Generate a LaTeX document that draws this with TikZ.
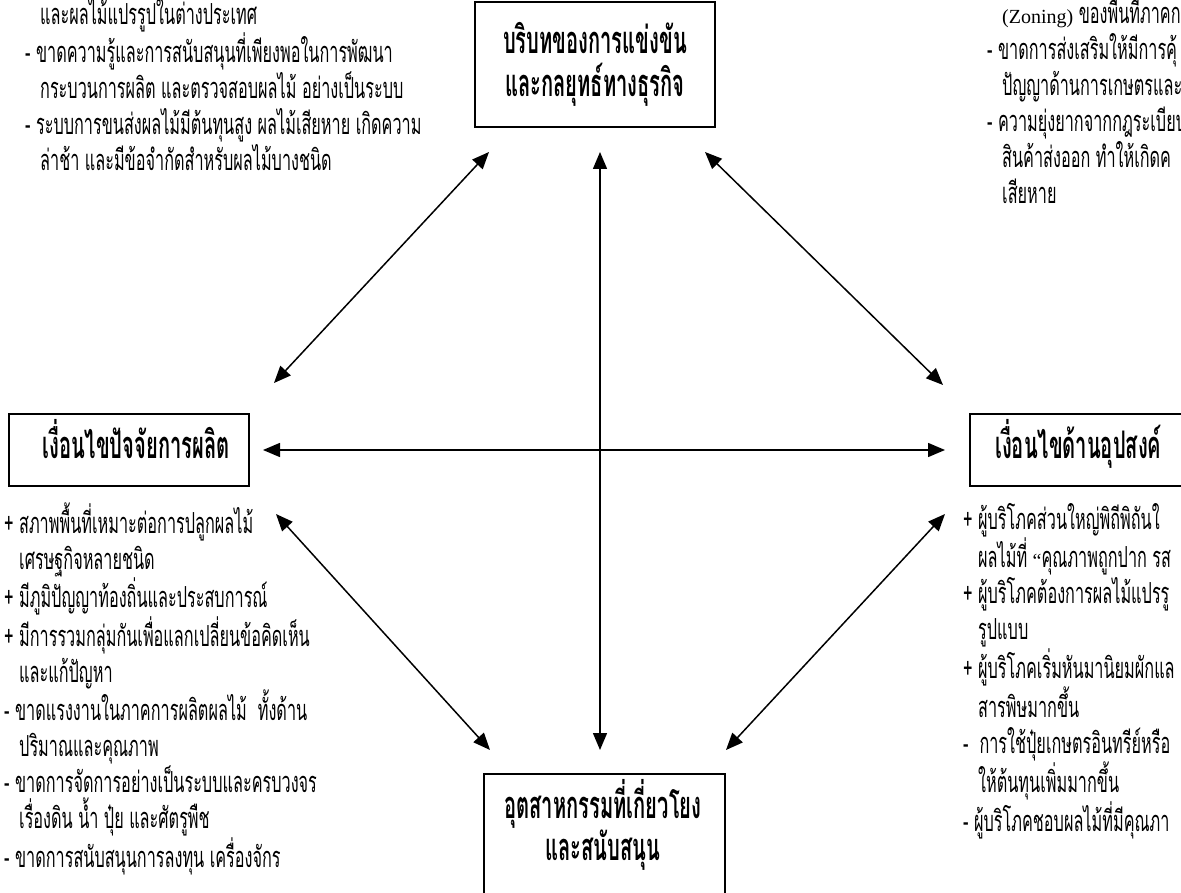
\documentclass[tikz,border=0pt]{standalone}
\usepackage{fontspec}
\usetikzlibrary{arrows.meta}
\newfontfamily\thaifont[Script=Thai,FakeStretch=0.56]{Loma}
\newfontfamily\thaihead[Script=Thai,FakeStretch=0.53]{Loma}
\newfontfamily\latinfont{Liberation Serif}
\tikzset{
  box/.style={draw, line width=1.3pt, inner sep=0pt},
  head/.style={font=\thaihead\bfseries\fontsize{38}{43}\selectfont, align=center, inner sep=0pt},
  block/.style={anchor=base west, inner sep=0pt, align=left,
    font=\thaifont\fontsize{29}{36}\selectfont},
  link/.style={line width=1.5pt,
    {Triangle[length=17pt,width=14pt]}-{Triangle[length=17pt,width=14pt]}}
}
\newcommand{\ind}{\hspace*{15pt}}
\newcommand{\openq}{{\latinfont\fontsize{20}{36}\selectfont“}}
\begin{document}
\begin{tikzpicture}[x=1pt,y=-1pt]
\useasboundingbox (0,0) rectangle (1181,893);
\clip (0,0) rectangle (1181,893);
\fill[white] (0,0) rectangle (1181,893);

% boxes (base anchor sits on the last line)
\node[box, minimum width=240pt, minimum height=125pt] (cx) at (595,64.5) {};
\node[head, anchor=base] (cxt) at (595,97) {บริบทของการแข่งขัน\\และกลยุทธ์ทางธุรกิจ};

\node[box, minimum width=240pt, minimum height=72pt] (fc) at (129,450) {};
\node[head, anchor=base] (fct) at (136,458) {เงื่อนไขปัจจัยการผลิต};

\node[box, minimum width=240pt, minimum height=72pt] (dc) at (1090,450) {};
\node[head, anchor=base west] (dct) at (995,458) {เงื่อนไขด้านอุปสงค์};

\node[box, minimum width=241pt, minimum height=150pt] (ri) at (604.5,849) {};
\node[head, anchor=base, font=\thaihead\bfseries\fontsize{38}{40}\selectfont] (rit) at (603,860)
{อุตสาหกรรมที่เกี่ยวโยง\\และสนับสนุน};

% text blocks
\node[block] (ttl) at (25,171)
{\ind และผลไม้แปรรูปในต่างประเทศ\\
- ขาดความรู้และการสนับสนุนที่เพียงพอในการพัฒนา\\
\ind กระบวนการผลิต และตรวจสอบผลไม้ อย่างเป็นระบบ\\
- ระบบการขนส่งผลไม้มีต้นทุนสูง ผลไม้เสียหาย เกิดความ\\
\ind ล่าช้า และมีข้อจำกัดสำหรับผลไม้บางชนิด};

\node[block] (ttr) at (987,204)
{\ind {\latinfont\fontsize{20}{36}\selectfont(Zoning)} ของพื้นที่ภาคกา\\
- ขาดการส่งเสริมให้มีการคุ้\\
\ind ปัญญาด้านการเกษตรและ\\
- ความยุ่งยากจากกฎระเบียบ\\
\ind สินค้าส่งออก ทำให้เกิดค\\
\ind เสียหาย};

\node[block] (tbl) at (4,867)
{+ สภาพพื้นที่เหมาะต่อการปลูกผลไม้\\
\ind เศรษฐกิจหลายชนิด\\
+ มีภูมิปัญญาท้องถิ่นและประสบการณ์\\
+ มีการรวมกลุ่มกันเพื่อแลกเปลี่ยนข้อคิดเห็น\\
\ind และแก้ปัญหา\\
- ขาดแรงงานในภาคการผลิตผลไม้ ~ทั้งด้าน\\
\ind ปริมาณและคุณภาพ\\
- ขาดการจัดการอย่างเป็นระบบและครบวงจร\\
\ind เรื่องดิน น้ำ ปุ๋ย และศัตรูพืช\\
- ขาดการสนับสนุนการลงทุน เครื่องจักร};

\node[block] (tbr) at (963,831)
{+ ผู้บริโภคส่วนใหญ่พิถีพิถันใ\\
\ind ผลไม้ที่ \openq คุณภาพถูกปาก รส\\
+ ผู้บริโภคต้องการผลไม้แปรรู\\
\ind รูปแบบ\\
+ ผู้บริโภคเริ่มหันมานิยมผักแล\\
\ind สารพิษมากขึ้น\\
- ~การใช้ปุ๋ยเกษตรอินทรีย์หรือ\\
\ind ให้ต้นทุนเพิ่มมากขึ้น\\
- ผู้บริโภคชอบผลไม้ที่มีคุณภา};

% connectors
\coordinate (hL) at (263,450);
\coordinate (hR) at (945,450);
\coordinate (vT) at (600,152);
\coordinate (vB) at (600,750);
\coordinate (aTL) at (489,152);
\coordinate (aLT) at (274,383);
\coordinate (aTR) at (705,152);
\coordinate (aRT) at (943,385);
\coordinate (aLB) at (276,514);
\coordinate (aBL) at (490,750);
\coordinate (aRB) at (945,514);
\coordinate (aBR) at (726,750);

\draw[link] (hL) -- (hR);
\draw[link] (vT) -- (vB);
\draw[link] (aTL) -- (aLT);
\draw[link] (aTR) -- (aRT);
\draw[link] (aLB) -- (aBL);
\draw[link] (aRB) -- (aBR);
\end{tikzpicture}
\end{document}
